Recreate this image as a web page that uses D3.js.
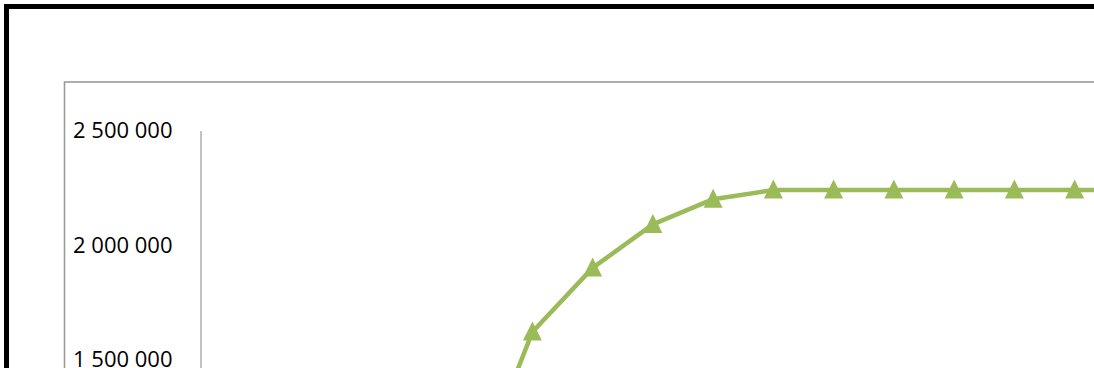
<!DOCTYPE html>
<html>
<head>
<meta charset="utf-8">
<script src="https://cdn.jsdelivr.net/npm/d3@7"></script>
<style>
  html, body { margin: 0; padding: 0; background: #fff; overflow: hidden; }
  svg { display: block; }
</style>
</head>
<body>
<svg id="chart" width="1094" height="368"></svg>
<script>
// Periods along the category axis
const periods = [1, 2, 3, 4, 5, 6, 7, 8, 9, 10, 11, 12, 13, 14, 15, 16];
// Cumulative total per period (null where no value is recorded)
const totals = [null, null, null, null, 950000, 1620000, 1900000, 2090000, 2200000,
                2240000, 2240000, 2240000, 2240000, 2240000, 2240000, 2240000];
// Value axis ticks
const yTicks = [1500000, 2000000, 2500000];
const yTickLabels = ["1 500 000", "2 000 000", "2 500 000"];

const svg = d3.select("#chart");
const W = 1094, H = 368;

// Outer frame
svg.append("rect")
  .attr("x", 6.5).attr("y", 6.5)
  .attr("width", 1200).attr("height", 800)
  .attr("fill", "#fff")
  .attr("stroke", "#000").attr("stroke-width", 5);

// Chart area frame
svg.append("rect")
  .attr("x", 64.5).attr("y", 82)
  .attr("width", 1200).attr("height", 800)
  .attr("fill", "#fff")
  .attr("stroke", "#9a9a9a").attr("stroke-width", 1.6);

const plotLeft = 200.5, plotTop = 130.5, step = 60.25, unit = 114.5;

const x = d3.scaleBand()
  .domain(periods)
  .range([plotLeft + 0.5, plotLeft + 0.5 + step * periods.length]);

const y = d3.scaleLinear()
  .domain([0, 2500000])
  .range([plotTop + 5 * unit, plotTop]);

// Value axis
const yAxis = d3.axisLeft(y)
  .tickValues(yTicks)
  .tickSize(0)
  .tickPadding(28)
  .tickFormat((d, i) => yTickLabels[i]);

const gy = svg.append("g")
  .attr("transform", `translate(${plotLeft},0)`)
  .call(yAxis);
gy.select(".domain").attr("stroke", "#868686").attr("stroke-width", 1);
gy.selectAll("text")
  .attr("font-family", "'Open Sans', sans-serif")
  .attr("font-size", 22)
  .attr("fill", "#000");

const pts = periods.map((p, i) => ({ p, v: totals[i] })).filter(d => d.v !== null);
const cx = d => x(d.p) + x.bandwidth() / 2;

const color = "#9bbb59";

svg.append("path")
  .datum(pts)
  .attr("fill", "none")
  .attr("stroke", color)
  .attr("stroke-width", 4.5)
  .attr("stroke-linejoin", "round")
  .attr("d", d3.line().x(cx).y(d => y(d.v)));

// Triangle markers
svg.append("g").selectAll("path")
  .data(pts)
  .join("path")
  .attr("transform", d => `translate(${cx(d)},${y(d.v)})`)
  .attr("d", "M0,-10.5L9.5,8.5L-9.5,8.5Z")
  .attr("fill", color);
</script>
</body>
</html>
